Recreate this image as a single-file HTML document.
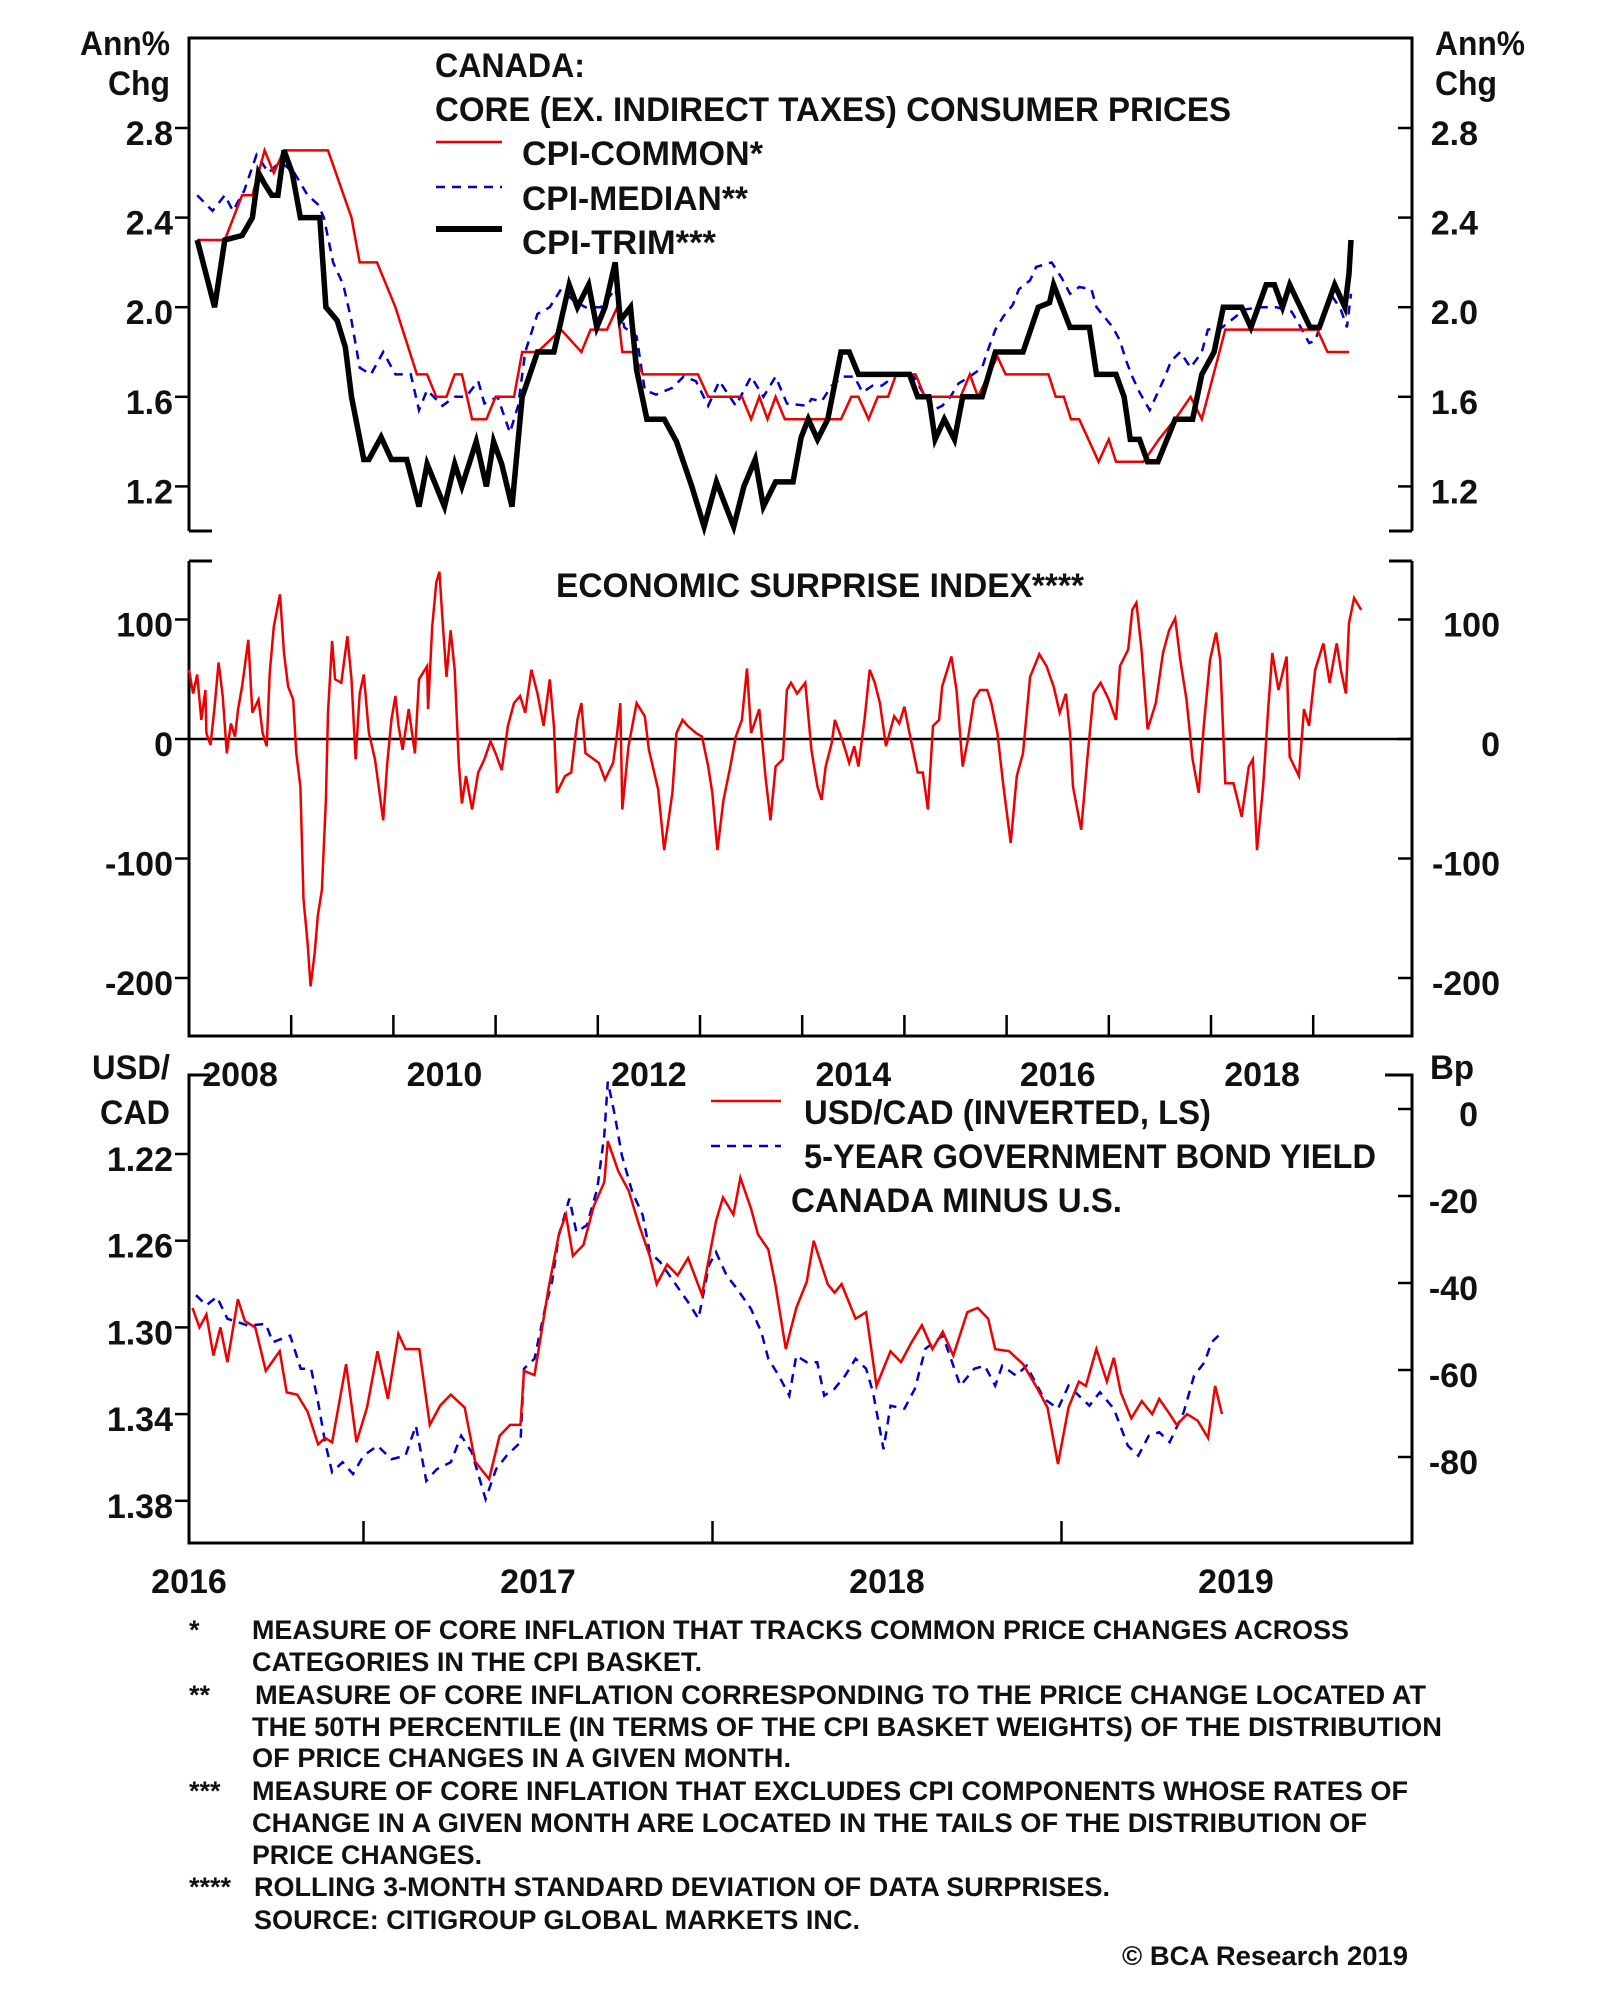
<!DOCTYPE html>
<html><head><meta charset="utf-8"><style>
html,body{margin:0;padding:0;background:#fff}
svg{display:block}
text{font-family:"Liberation Sans",Arial,sans-serif;font-weight:bold;fill:#111}
</style></head><body>
<svg id="chart" width="1600" height="1994" viewBox="0 0 1600 1994" xmlns="http://www.w3.org/2000/svg">
<rect width="1600" height="1994" fill="#fff"/>
<g id="frames" stroke="#000" stroke-width="3" fill="none">
  <path d="M189,531 V38 H1412 V531 M189,531 H212 M1389,531 H1412"/>
  <path d="M189,561 H212 M1389,561 H1412 M189,561 V1036 H1412 V561"/>
  <path d="M210,1075 H189 V1543 H1412 V1075 H1385"/>
  <line x1="189" y1="739" x2="1412" y2="739" stroke-width="2.5"/>
</g>
<g id="ticks" stroke="#000" stroke-width="2.5"></g>
<g id="labels"></g>
<g id="series"></g>

<g font-size="34">
  <text x="170" y="55" text-anchor="end" textLength="90" lengthAdjust="spacingAndGlyphs">Ann%</text>
  <text x="170" y="95" text-anchor="end" textLength="62" lengthAdjust="spacingAndGlyphs">Chg</text>
  <text x="1435" y="55" textLength="90" lengthAdjust="spacingAndGlyphs">Ann%</text>
  <text x="1435" y="95" textLength="62" lengthAdjust="spacingAndGlyphs">Chg</text>
  <text x="435" y="77" textLength="150" lengthAdjust="spacingAndGlyphs">CANADA:</text>
  <text x="435" y="121" textLength="796" lengthAdjust="spacingAndGlyphs">CORE (EX. INDIRECT TAXES) CONSUMER PRICES</text>
  <line x1="436" y1="142" x2="502" y2="142" stroke="#e00" stroke-width="2.5"/>
  <text x="522" y="165" textLength="241" lengthAdjust="spacingAndGlyphs">CPI-COMMON*</text>
  <line x1="436" y1="187" x2="502" y2="187" stroke="#00c" stroke-width="2.5" stroke-dasharray="9,7"/>
  <text x="522" y="210" textLength="226" lengthAdjust="spacingAndGlyphs">CPI-MEDIAN**</text>
  <line x1="436" y1="229" x2="502" y2="229" stroke="#000" stroke-width="6"/>
  <text x="522" y="254" textLength="194" lengthAdjust="spacingAndGlyphs">CPI-TRIM***</text>
  <text x="556" y="597" textLength="528" lengthAdjust="spacingAndGlyphs">ECONOMIC SURPRISE INDEX****</text>
  <text x="170" y="1079" text-anchor="end" textLength="78" lengthAdjust="spacingAndGlyphs">USD/</text>
  <text x="170" y="1124" text-anchor="end" textLength="70" lengthAdjust="spacingAndGlyphs">CAD</text>
  <text x="1430" y="1079" textLength="44" lengthAdjust="spacingAndGlyphs">Bp</text>
  <line x1="711" y1="1101" x2="781" y2="1101" stroke="#e00" stroke-width="2.5"/>
  <text x="804" y="1124" textLength="407" lengthAdjust="spacingAndGlyphs">USD/CAD (INVERTED, LS)</text>
  <line x1="711" y1="1146" x2="781" y2="1146" stroke="#00c" stroke-width="2.5" stroke-dasharray="9,7"/>
  <text x="804" y="1168" textLength="572" lengthAdjust="spacingAndGlyphs">5-YEAR GOVERNMENT BOND YIELD</text>
  <text x="791" y="1212" textLength="331" lengthAdjust="spacingAndGlyphs">CANADA MINUS U.S.</text>
</g>

<g font-size="27">
  <text x="189" y="1639">*</text>
  <text x="252" y="1639" textLength="1097" lengthAdjust="spacingAndGlyphs">MEASURE OF CORE INFLATION THAT TRACKS COMMON PRICE CHANGES ACROSS</text>
  <text x="252" y="1671" textLength="450" lengthAdjust="spacingAndGlyphs">CATEGORIES IN THE CPI BASKET.</text>
  <text x="189" y="1704">**</text>
  <text x="255" y="1704" textLength="1171" lengthAdjust="spacingAndGlyphs">MEASURE OF CORE INFLATION CORRESPONDING TO THE PRICE CHANGE LOCATED AT</text>
  <text x="252" y="1736" textLength="1190" lengthAdjust="spacingAndGlyphs">THE 50TH PERCENTILE (IN TERMS OF THE CPI BASKET WEIGHTS) OF THE DISTRIBUTION</text>
  <text x="252" y="1767" textLength="539" lengthAdjust="spacingAndGlyphs">OF PRICE CHANGES IN A GIVEN MONTH.</text>
  <text x="189" y="1800">***</text>
  <text x="252" y="1800" textLength="1156" lengthAdjust="spacingAndGlyphs">MEASURE OF CORE INFLATION THAT EXCLUDES CPI COMPONENTS WHOSE RATES OF</text>
  <text x="252" y="1832" textLength="1115" lengthAdjust="spacingAndGlyphs">CHANGE IN A GIVEN MONTH ARE LOCATED IN THE TAILS OF THE DISTRIBUTION OF</text>
  <text x="252" y="1864" textLength="230" lengthAdjust="spacingAndGlyphs">PRICE CHANGES.</text>
  <text x="189" y="1896">****</text>
  <text x="254" y="1896" textLength="856" lengthAdjust="spacingAndGlyphs">ROLLING 3-MONTH STANDARD DEVIATION OF DATA SURPRISES.</text>
  <text x="254" y="1929" textLength="606" lengthAdjust="spacingAndGlyphs">SOURCE: CITIGROUP GLOBAL MARKETS INC.</text>
  <text x="1408" y="1965" text-anchor="end" textLength="286" lengthAdjust="spacingAndGlyphs">© BCA Research 2019</text>
</g>
</svg>
<script>
// ---- Panel 1 data: [years since 2008, annual % change]
const cpiTrim = [[0.08,2.3],[0.25,2.0],[0.35,2.3],[0.52,2.32],[0.62,2.4],[0.68,2.6],[0.74,2.55],[0.81,2.5],[0.87,2.5],[0.93,2.7],[1.01,2.6],[1.09,2.4],[1.28,2.4],[1.34,2.0],[1.45,1.94],[1.53,1.82],[1.59,1.6],[1.71,1.32],[1.76,1.32],[1.88,1.42],[1.98,1.32],[2.13,1.32],[2.25,1.11],[2.33,1.3],[2.5,1.11],[2.6,1.3],[2.67,1.2],[2.81,1.4],[2.91,1.2],[2.98,1.4],[3.06,1.3],[3.16,1.11],[3.26,1.6],[3.41,1.8],[3.57,1.8],[3.62,1.9],[3.72,2.1],[3.8,2.0],[3.91,2.1],[3.99,1.91],[4.07,2.0],[4.17,2.2],[4.22,1.94],[4.32,2.0],[4.38,1.72],[4.48,1.5],[4.65,1.5],[4.77,1.4],[4.92,1.2],[5.04,1.02],[5.16,1.22],[5.33,1.02],[5.43,1.2],[5.54,1.32],[5.62,1.11],[5.74,1.22],[5.91,1.22],[5.99,1.42],[6.06,1.5],[6.15,1.41],[6.25,1.5],[6.38,1.8],[6.46,1.8],[6.55,1.7],[7.05,1.7],[7.13,1.6],[7.24,1.6],[7.30,1.41],[7.39,1.5],[7.49,1.41],[7.57,1.6],[7.76,1.6],[7.89,1.8],[8.16,1.8],[8.31,2.0],[8.42,2.02],[8.46,2.1],[8.62,1.91],[8.81,1.91],[8.88,1.7],[9.07,1.7],[9.15,1.6],[9.21,1.41],[9.30,1.41],[9.38,1.31],[9.48,1.31],[9.65,1.5],[9.82,1.5],[9.91,1.7],[10.03,1.8],[10.12,2.0],[10.30,2.0],[10.39,1.91],[10.54,2.1],[10.62,2.1],[10.70,2.0],[10.77,2.1],[10.97,1.91],[11.06,1.91],[11.21,2.1],[11.31,2.0],[11.35,2.15],[11.37,2.3]];
const cpiCommon = [[0.08,2.3],[0.35,2.3],[0.52,2.5],[0.62,2.5],[0.74,2.7],[0.83,2.6],[0.93,2.7],[1.36,2.7],[1.59,2.4],[1.67,2.2],[1.84,2.2],[2.02,2.0],[2.23,1.7],[2.33,1.7],[2.42,1.6],[2.52,1.6],[2.60,1.7],[2.67,1.7],[2.77,1.5],[2.91,1.5],[3.00,1.6],[3.18,1.6],[3.26,1.8],[3.41,1.8],[3.64,1.9],[3.84,1.8],[3.93,1.9],[4.09,1.9],[4.19,2.0],[4.24,1.8],[4.34,1.8],[4.44,1.7],[4.98,1.7],[5.08,1.6],[5.41,1.6],[5.50,1.5],[5.58,1.6],[5.66,1.5],[5.74,1.6],[5.83,1.5],[6.05,1.5],[6.38,1.5],[6.48,1.6],[6.55,1.6],[6.65,1.5],[6.74,1.6],[6.84,1.6],[6.92,1.7],[7.11,1.7],[7.20,1.6],[7.55,1.6],[7.64,1.7],[7.72,1.6],[7.91,1.78],[7.99,1.7],[8.41,1.7],[8.48,1.6],[8.56,1.6],[8.63,1.5],[8.71,1.5],[8.90,1.31],[9.00,1.41],[9.07,1.31],[9.34,1.31],[9.49,1.41],[9.65,1.5],[9.80,1.6],[9.91,1.5],[10.14,1.9],[11.04,1.9],[11.14,1.8],[11.35,1.8]];
const cpiMedian = [[0.08,2.5],[0.23,2.43],[0.35,2.5],[0.43,2.43],[0.54,2.52],[0.66,2.68],[0.78,2.6],[0.89,2.65],[1.03,2.6],[1.16,2.5],[1.26,2.46],[1.32,2.4],[1.41,2.2],[1.51,2.1],[1.59,1.94],[1.67,1.73],[1.78,1.7],[1.90,1.8],[2.02,1.7],[2.17,1.7],[2.25,1.54],[2.33,1.63],[2.48,1.56],[2.60,1.6],[2.71,1.6],[2.83,1.67],[2.89,1.57],[3.02,1.6],[3.14,1.44],[3.22,1.56],[3.29,1.8],[3.41,1.97],[3.53,2.0],[3.64,2.08],[3.76,2.03],[3.88,2.0],[4.03,2.0],[4.17,2.08],[4.26,1.91],[4.38,1.87],[4.46,1.63],[4.57,1.61],[4.73,1.64],[4.84,1.69],[4.96,1.67],[5.08,1.56],[5.19,1.67],[5.35,1.56],[5.50,1.69],[5.62,1.6],[5.74,1.69],[5.85,1.57],[6.05,1.56],[6.09,1.59],[6.19,1.58],[6.29,1.65],[6.40,1.69],[6.51,1.69],[6.59,1.62],[6.69,1.65],[6.78,1.65],[6.93,1.7],[7.09,1.69],[7.28,1.54],[7.37,1.56],[7.45,1.6],[7.53,1.66],[7.64,1.69],[7.76,1.73],[7.81,1.8],[7.89,1.9],[7.97,1.96],[8.06,2.01],[8.12,2.08],[8.23,2.12],[8.29,2.18],[8.44,2.2],[8.54,2.13],[8.62,2.06],[8.71,2.09],[8.83,2.08],[8.88,2.0],[9.04,1.91],[9.11,1.85],[9.17,1.76],[9.23,1.69],[9.30,1.62],[9.40,1.54],[9.48,1.62],[9.55,1.69],[9.61,1.76],[9.70,1.8],[9.80,1.73],[9.91,1.8],[9.97,1.9],[10.11,1.91],[10.33,1.99],[10.49,2.0],[10.64,2.0],[10.79,1.98],[10.89,1.9],[10.96,1.84],[11.02,1.85],[11.17,2.06],[11.27,1.99],[11.33,1.91],[11.37,2.06]];
const cpiTicks = [1.2,1.6,2.0,2.4,2.8];
const cpiTickLabels = ["1.2","1.6","2.0","2.4","2.8"];

// ---- Panel 2 data: [years since 2008, index]
const surprise = [[0,58],[0.04,38],[0.08,54],[0.12,16],[0.16,41],[0.17,5],[0.21,-5],[0.25,27],[0.29,64],[0.33,36],[0.37,-12],[0.41,13],[0.45,2],[0.48,25],[0.52,44],[0.58,83],[0.62,22],[0.68,33],[0.72,5],[0.76,-6],[0.79,55],[0.83,94],[0.89,121],[0.93,72],[0.97,44],[1.02,33],[1.05,-12],[1.09,-40],[1.12,-134],[1.16,-171],[1.19,-207],[1.23,-179],[1.26,-148],[1.30,-126],[1.34,-51],[1.36,22],[1.40,82],[1.43,50],[1.49,47],[1.55,86],[1.59,50],[1.63,-17],[1.67,38],[1.71,54],[1.76,5],[1.82,-17],[1.90,-68],[1.94,-20],[1.98,16],[2.02,36],[2.05,11],[2.09,-9],[2.15,25],[2.21,-12],[2.25,50],[2.33,61],[2.34,25],[2.38,94],[2.42,131],[2.45,140],[2.48,100],[2.52,52],[2.56,91],[2.60,58],[2.64,-20],[2.67,-54],[2.71,-31],[2.77,-59],[2.83,-28],[2.89,-17],[2.95,-2],[3.00,-12],[3.06,-26],[3.12,11],[3.18,30],[3.24,36],[3.29,22],[3.35,58],[3.41,38],[3.47,11],[3.53,50],[3.57,11],[3.60,-45],[3.68,-31],[3.74,-28],[3.80,16],[3.84,30],[3.88,-12],[3.93,-15],[4.01,-20],[4.07,-34],[4.15,-20],[4.19,5],[4.22,30],[4.24,-59],[4.30,-6],[4.38,30],[4.46,19],[4.50,-9],[4.59,-42],[4.65,-93],[4.73,-45],[4.77,5],[4.83,16],[4.88,11],[4.96,5],[5.02,2],[5.08,-23],[5.12,-45],[5.17,-93],[5.23,-51],[5.29,-26],[5.35,2],[5.41,16],[5.46,59],[5.50,5],[5.58,25],[5.64,-31],[5.69,-68],[5.74,-23],[5.81,-17],[5.85,41],[5.89,47],[5.95,38],[6.03,47],[6.09,-9],[6.15,-40],[6.19,-51],[6.23,-23],[6.29,-3],[6.32,16],[6.40,-3],[6.46,-20],[6.51,-6],[6.55,-23],[6.61,16],[6.66,58],[6.71,47],[6.76,30],[6.82,-6],[6.90,19],[6.95,13],[7.00,27],[7.05,5],[7.13,-28],[7.18,-28],[7.23,-59],[7.28,11],[7.34,16],[7.37,44],[7.46,69],[7.51,41],[7.57,-23],[7.62,-1],[7.68,33],[7.74,41],[7.81,41],[7.85,30],[7.91,5],[7.97,-40],[8.04,-87],[8.10,-31],[8.16,-12],[8.23,52],[8.32,71],[8.39,61],[8.46,44],[8.52,22],[8.58,38],[8.62,5],[8.65,-40],[8.73,-76],[8.79,-17],[8.85,38],[8.92,47],[9.00,33],[9.07,16],[9.11,61],[9.19,75],[9.23,108],[9.27,114],[9.32,75],[9.38,8],[9.46,30],[9.53,72],[9.59,91],[9.65,101],[9.70,66],[9.76,33],[9.82,-17],[9.88,-45],[9.93,11],[9.99,66],[10.05,89],[10.09,66],[10.14,-37],[10.22,-37],[10.30,-65],[10.37,-23],[10.41,-17],[10.45,-93],[10.51,-40],[10.56,25],[10.60,72],[10.66,41],[10.74,69],[10.77,-15],[10.86,-31],[10.91,25],[10.96,11],[11.02,58],[11.10,80],[11.16,47],[11.23,80],[11.27,58],[11.32,38],[11.35,97],[11.40,118],[11.47,108]];
const surpriseTicks = [-200,-100,0,100];
const surpriseTickLabels = ["-200","-100","0","100"];
const yearLabelsTop = ["2008","2010","2012","2014","2016","2018"];

// ---- Panel 3 data: [years since 2016, value]
const usdcad = [[0.01,1.291],[0.03,1.300],[0.05,1.294],[0.07,1.313],[0.09,1.300],[0.11,1.316],[0.14,1.287],[0.16,1.297],[0.19,1.300],[0.22,1.320],[0.26,1.311],[0.28,1.330],[0.31,1.331],[0.34,1.339],[0.37,1.354],[0.39,1.351],[0.41,1.353],[0.45,1.317],[0.48,1.353],[0.51,1.337],[0.54,1.311],[0.57,1.333],[0.60,1.303],[0.62,1.310],[0.66,1.310],[0.69,1.345],[0.72,1.336],[0.75,1.331],[0.79,1.337],[0.82,1.362],[0.86,1.370],[0.89,1.350],[0.92,1.345],[0.95,1.345],[0.96,1.320],[0.99,1.322],[1.03,1.282],[1.06,1.257],[1.08,1.248],[1.10,1.267],[1.13,1.262],[1.16,1.244],[1.19,1.233],[1.20,1.214],[1.23,1.228],[1.26,1.237],[1.29,1.253],[1.32,1.267],[1.34,1.280],[1.37,1.271],[1.40,1.276],[1.43,1.268],[1.47,1.285],[1.51,1.251],[1.53,1.240],[1.56,1.248],[1.58,1.231],[1.61,1.245],[1.63,1.257],[1.66,1.264],[1.68,1.280],[1.71,1.310],[1.74,1.291],[1.77,1.279],[1.79,1.260],[1.83,1.280],[1.85,1.284],[1.87,1.280],[1.91,1.296],[1.94,1.293],[1.97,1.327],[2.01,1.311],[2.04,1.316],[2.07,1.307],[2.10,1.299],[2.13,1.310],[2.16,1.302],[2.19,1.313],[2.23,1.293],[2.26,1.291],[2.29,1.296],[2.31,1.310],[2.35,1.311],[2.39,1.317],[2.43,1.328],[2.46,1.337],[2.49,1.363],[2.52,1.337],[2.55,1.325],[2.57,1.327],[2.60,1.310],[2.63,1.325],[2.65,1.314],[2.67,1.330],[2.70,1.342],[2.73,1.334],[2.76,1.340],[2.78,1.333],[2.81,1.340],[2.83,1.345],[2.86,1.340],[2.89,1.343],[2.92,1.351],[2.94,1.327],[2.96,1.340]];
const bondSpread = [[0.02,-42.8],[0.05,-45.1],[0.08,-43.2],[0.11,-48.2],[0.14,-49],[0.17,-49.8],[0.22,-49.4],[0.24,-53.6],[0.29,-52.1],[0.32,-59.7],[0.35,-59.7],[0.37,-67.4],[0.39,-76.6],[0.41,-83.5],[0.44,-81.2],[0.47,-83.9],[0.50,-79.7],[0.54,-77.4],[0.58,-80.5],[0.62,-79.7],[0.65,-72.8],[0.68,-85.5],[0.71,-82.8],[0.75,-81.2],[0.78,-75.1],[0.81,-78.9],[0.85,-89.7],[0.88,-82.8],[0.91,-79.7],[0.95,-76.6],[0.96,-59.7],[0.99,-57.4],[1.02,-45.9],[1.04,-39.8],[1.06,-29],[1.09,-20.6],[1.11,-28.3],[1.14,-26.7],[1.17,-18.3],[1.19,-6],[1.20,6.3],[1.22,-1.4],[1.24,-10.6],[1.27,-19],[1.30,-24.4],[1.32,-32.9],[1.35,-35.2],[1.39,-39.8],[1.43,-44.4],[1.46,-48.2],[1.49,-35.9],[1.51,-32.9],[1.54,-38.2],[1.57,-41.3],[1.61,-45.9],[1.64,-51.3],[1.66,-57.4],[1.69,-61.3],[1.72,-65.9],[1.74,-56.7],[1.77,-58.2],[1.80,-58.2],[1.82,-65.9],[1.85,-64.3],[1.88,-61.3],[1.91,-57.4],[1.94,-59.7],[1.96,-65.1],[1.99,-78.2],[2.01,-68.2],[2.05,-68.9],[2.08,-64.3],[2.11,-55.1],[2.16,-52.1],[2.19,-59],[2.21,-63.6],[2.25,-59.7],[2.28,-59],[2.31,-63.6],[2.33,-59],[2.37,-61.3],[2.40,-59],[2.45,-66.6],[2.49,-68.9],[2.52,-63.6],[2.55,-65.9],[2.58,-68.2],[2.61,-65.1],[2.65,-68.9],[2.69,-77.4],[2.72,-79.7],[2.75,-75.1],[2.78,-74.3],[2.81,-76.6],[2.85,-69.7],[2.88,-61.3],[2.91,-58.2],[2.93,-53.6],[2.95,-52.1]];
const usdTicks = [1.22,1.26,1.30,1.34,1.38];
const usdTickLabels = ["1.22","1.26","1.30","1.34","1.38"];
const bpTicks = [0,-20,-40,-60,-80];
const bpTickLabels = ["0","-20","-40","-60","-80"];
const yearLabelsBottom = ["2016","2017","2018","2019"];

// ---- axis functions
const X1 = t => 189 + t*102.2;
const Y1 = v => 128 + (2.8 - v)*224;
const Y2 = v => 739 - v*1.195;
const X3 = t => 189 + t*349;
const Y3u = v => 1154 + (v - 1.22)*2167.5;
const Y3b = v => 1109 - v*4.35;

const NS = "http://www.w3.org/2000/svg";
function mk(tag, attrs, parent){
  const e = document.createElementNS(NS, tag);
  for (const k in attrs) e.setAttribute(k, attrs[k]);
  parent.appendChild(e);
  return e;
}
const ticksG = document.getElementById('ticks');
const labelsG = document.getElementById('labels');
const seriesG = document.getElementById('series');

function label(x, y, txt, anchor, name){
  const t = mk('text', {x:x, y:y, 'text-anchor':anchor, 'font-size':34}, labelsG);
  t.textContent = txt;
  
  
}
function tick(x1,y1,x2,y2,name){
  const l = mk('line', {x1:x1,y1:y1,x2:x2,y2:y2}, ticksG);
  
  
}

cpiTicks.forEach((v,i) => {
  const y = Y1(v);
  tick(175,y,189,y,'cpi-left-tick');
  tick(1398,y,1412,y,'cpi-right-tick');
  label(173, y+17, cpiTickLabels[i], 'end', 'cpi-left-tick-label');
  label(1478, y+17, cpiTickLabels[i], 'end', 'cpi-right-tick-label');
});
surpriseTicks.forEach((v,i) => {
  const y = Y2(v);
  tick(175,y,189,y,'surprise-left-tick');
  tick(1398,y,1412,y,'surprise-right-tick');
  label(173, y+17, surpriseTickLabels[i], 'end', 'surprise-left-tick-label');
  label(1500, y+17, surpriseTickLabels[i], 'end', 'surprise-right-tick-label');
});
for (let yr = 1; yr <= 11; yr++) tick(X1(yr),1036,X1(yr),1015,'year-tick');
yearLabelsTop.forEach((s,i) => label(X1(i*2+0.5), 1086, s, 'middle', 'year-label-top'));

usdTicks.forEach((v,i) => {
  const y = Y3u(v);
  tick(175,y,189,y,'usdcad-tick');
  label(173, y+17, usdTickLabels[i], 'end', 'usdcad-tick-label');
});
bpTicks.forEach((v,i) => {
  const y = Y3b(v);
  tick(1398,y,1412,y,'bp-tick');
  label(1478, y+17, bpTickLabels[i], 'end', 'bp-tick-label');
});
for (let k = 0; k < 3; k++) tick(X3(k+0.5),1543,X3(k+0.5),1521,'half-year-tick');
yearLabelsBottom.forEach((s,i) => label(X3(i), 1593, s, 'middle', 'year-label-bottom'));

function line(data, fx, fy, style, name){
  const d = data.map((p,i) => (i ? 'L' : 'M') + fx(p[0]).toFixed(1) + ',' + fy(p[1]).toFixed(1)).join('');
  const p = mk('path', Object.assign({d:d, fill:'none', 'stroke-linejoin':'miter'}, style), seriesG);
  
  
}
line(cpiMedian, X1, Y1, {stroke:'#00c','stroke-width':2.5,'stroke-dasharray':'9,7'}, 'cpi-median-line');
line(cpiCommon, X1, Y1, {stroke:'#e00','stroke-width':2.5}, 'cpi-common-line');
line(cpiTrim, X1, Y1, {stroke:'#000','stroke-width':5.5}, 'cpi-trim-line');
line(surprise, X1, Y2, {stroke:'#e00','stroke-width':2.5}, 'surprise-index-line');
line(bondSpread, X3, Y3b, {stroke:'#00c','stroke-width':2.5,'stroke-dasharray':'9,7'}, 'bond-spread-line');
line(usdcad, X3, Y3u, {stroke:'#e00','stroke-width':2.5}, 'usdcad-line');
</script>
</body></html>
